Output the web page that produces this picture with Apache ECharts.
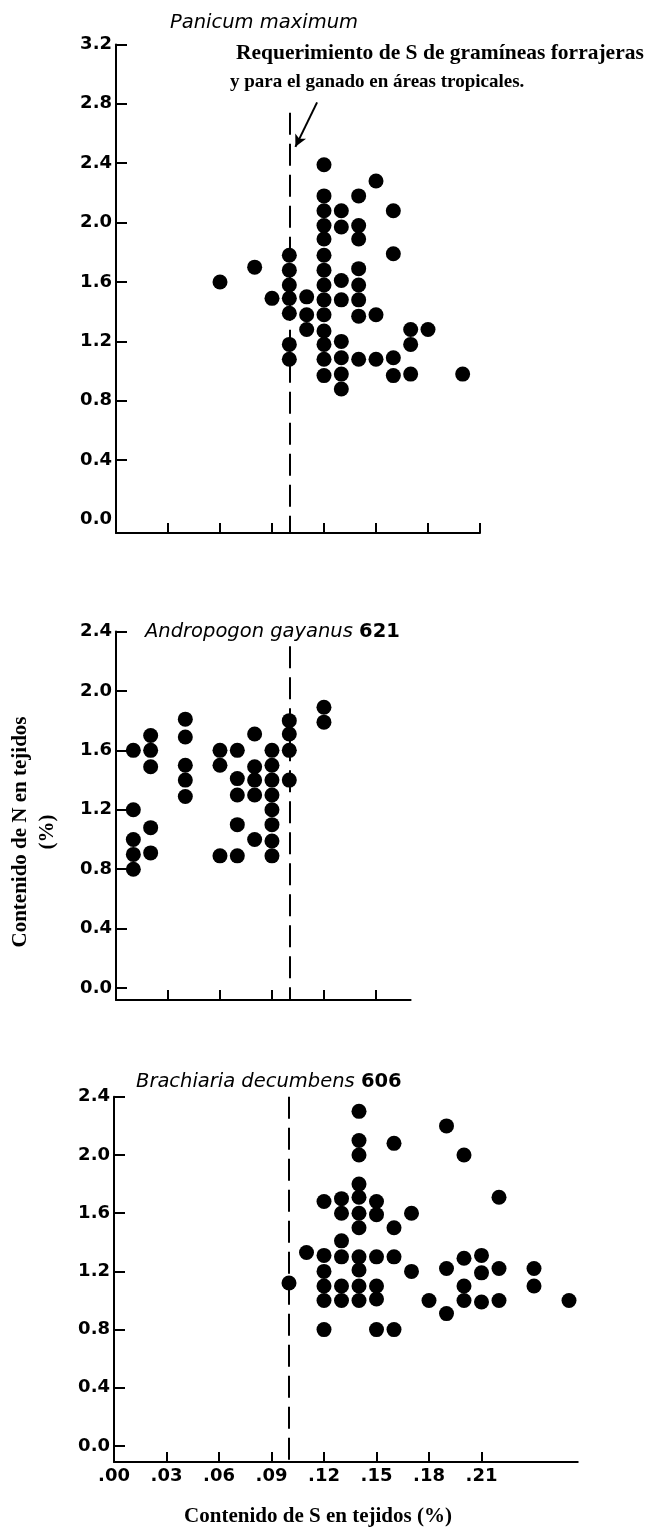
<!DOCTYPE html>
<html>
<head>
<meta charset="utf-8">
<script src="https://cdn.jsdelivr.net/npm/echarts@6/dist/echarts.min.js"></script>
<style>
  html, body { margin: 0; padding: 0; background: #fff; }
  #chart { width: 649px; height: 1531px; }
</style>
</head>
<body>
<div id="chart"></div>
<script>
// Sulfur (S, %) vs nitrogen (N, %) content in plant tissue, three forage grasses.
// Each point is [S, N].
const panicum = [
  [0.06, 1.60],
  [0.08, 1.70],
  [0.09, 1.49],
  [0.10, 1.78], [0.10, 1.68], [0.10, 1.58], [0.10, 1.49], [0.10, 1.39], [0.10, 1.18], [0.10, 1.08],
  [0.11, 1.50], [0.11, 1.38], [0.11, 1.28],
  [0.12, 2.39], [0.12, 2.18], [0.12, 2.08], [0.12, 1.98], [0.12, 1.89], [0.12, 1.78], [0.12, 1.68],
  [0.12, 1.58], [0.12, 1.48], [0.12, 1.38], [0.12, 1.27], [0.12, 1.18], [0.12, 1.08], [0.12, 0.97],
  [0.13, 2.08], [0.13, 1.97], [0.13, 1.61], [0.13, 1.48], [0.13, 1.20], [0.13, 1.09], [0.13, 0.98], [0.13, 0.88],
  [0.14, 2.18], [0.14, 1.98], [0.14, 1.89], [0.14, 1.69], [0.14, 1.58], [0.14, 1.48], [0.14, 1.37], [0.14, 1.08],
  [0.15, 2.28], [0.15, 1.38], [0.15, 1.08],
  [0.16, 2.08], [0.16, 1.79], [0.16, 1.09], [0.16, 0.97],
  [0.17, 1.28], [0.17, 1.18], [0.17, 0.98],
  [0.18, 1.28],
  [0.20, 0.98]
];

const andropogon = [
  [0.01, 1.60], [0.01, 1.20], [0.01, 1.00], [0.01, 0.90], [0.01, 0.80],
  [0.02, 1.70], [0.02, 1.60], [0.02, 1.49], [0.02, 1.08], [0.02, 0.91],
  [0.04, 1.81], [0.04, 1.69], [0.04, 1.50], [0.04, 1.40], [0.04, 1.29],
  [0.06, 1.60], [0.06, 1.50], [0.06, 0.89],
  [0.07, 1.60], [0.07, 1.41], [0.07, 1.30], [0.07, 1.10], [0.07, 0.89],
  [0.08, 1.71], [0.08, 1.49], [0.08, 1.40], [0.08, 1.30], [0.08, 1.00],
  [0.09, 1.60], [0.09, 1.50], [0.09, 1.40], [0.09, 1.30], [0.09, 1.20], [0.09, 1.10], [0.09, 0.99], [0.09, 0.89],
  [0.10, 1.80], [0.10, 1.71], [0.10, 1.60], [0.10, 1.40],
  [0.12, 1.89], [0.12, 1.79]
];

const brachiaria = [
  [0.10, 1.12],
  [0.11, 1.33],
  [0.12, 1.68], [0.12, 1.31], [0.12, 1.20], [0.12, 1.10], [0.12, 1.00], [0.12, 0.80],
  [0.13, 1.70], [0.13, 1.60], [0.13, 1.41], [0.13, 1.30], [0.13, 1.10], [0.13, 1.00],
  [0.14, 2.30], [0.14, 2.10], [0.14, 2.00], [0.14, 1.80], [0.14, 1.71], [0.14, 1.60],
  [0.14, 1.50], [0.14, 1.30], [0.14, 1.21], [0.14, 1.10], [0.14, 1.00],
  [0.15, 1.68], [0.15, 1.59], [0.15, 1.30], [0.15, 1.10], [0.15, 1.01], [0.15, 0.80],
  [0.16, 2.08], [0.16, 1.50], [0.16, 1.30], [0.16, 0.80],
  [0.17, 1.60], [0.17, 1.20],
  [0.18, 1.00],
  [0.19, 2.20], [0.19, 1.22], [0.19, 0.91],
  [0.20, 2.00], [0.20, 1.29], [0.20, 1.10], [0.20, 1.00],
  [0.21, 1.31], [0.21, 1.19], [0.21, 0.99],
  [0.22, 1.71], [0.22, 1.22], [0.22, 1.00],
  [0.24, 1.22], [0.24, 1.10],
  [0.26, 1.00]
];

// S requirement of tropical forage grasses and cattle
const sRequirement = 0.10;

// Axis ticks and labels
const nTicksPanicum = [0.0, 0.4, 0.8, 1.2, 1.6, 2.0, 2.4, 2.8, 3.2];
const nTicks = [0.0, 0.4, 0.8, 1.2, 1.6, 2.0, 2.4];
const sTicks = [0.03, 0.06, 0.09, 0.12, 0.15, 0.18, 0.21];
const sTicksShort = [0.03, 0.06, 0.09, 0.12, 0.15];
const sLabels = [0.00, 0.03, 0.06, 0.09, 0.12, 0.15, 0.18, 0.21];

const titles = ['Panicum maximum', 'Andropogon gayanus', 'Brachiaria decumbens'];
const cultivars = ['', '621', '606'];

const SANS = '"DejaVu Sans", "Liberation Sans", sans-serif';
const SERIF = '"Liberation Serif", "DejaVu Serif", serif';

const chart = echarts.init(document.getElementById('chart'), null, { renderer: 'canvas' });

const black = '#000';

function xAxisFor(gridIndex, max, ticks, labels) {
  return {
    type: 'value', gridIndex, min: 0, max,
    splitLine: { show: false },
    axisLine: { onZero: false, lineStyle: { color: black, width: 2 } },
    axisTick: { inside: true, length: 10, customValues: ticks, lineStyle: { color: black, width: 2 } },
    axisLabel: labels ? {
      customValues: labels, margin: 5, color: black, fontFamily: SANS, fontWeight: 'bold', fontSize: 18,
      formatter: v => v.toFixed(2).replace(/^0/, '')
    } : { show: false }
  };
}

function yAxisFor(gridIndex, min, max, labels, ticks) {
  return {
    type: 'value', gridIndex, min, max,
    splitLine: { show: false },
    axisLine: { onZero: false, lineStyle: { color: black, width: 2 } },
    axisTick: { inside: true, length: 11, customValues: ticks, lineStyle: { color: black, width: 2 } },
    axisLabel: {
      customValues: labels, margin: 4, color: black, fontFamily: SANS, fontWeight: 'bold', fontSize: 18,
      formatter: v => v.toFixed(1)
    }
  };
}

function dots(data, idx, reqTop, reqBottom) {
  return {
    type: 'scatter', xAxisIndex: idx, yAxisIndex: idx, data,
    symbol: 'circle', symbolSize: 15,
    itemStyle: { color: black, opacity: 1 },
    z: 3,
    markLine: {
      silent: true, symbol: ['none', 'none'],
      label: { show: false },
      lineStyle: { color: black, width: 2, type: [22, 9], opacity: 1 },
      data: [[{ coord: [sRequirement, reqTop] }, { coord: [sRequirement, reqBottom] }]]
    }
  };
}

// Arrow from the note to the requirement line (data coordinates of panel 1)
const noteArrow = [[0.116, 2.81], [0.1035, 2.51]];

const titleStyle = {
  fontFamily: SANS, fontStyle: 'italic', fontWeight: 'normal', fontSize: 19.5, color: black,
  rich: { b: { fontFamily: SANS, fontStyle: 'normal', fontWeight: 'bold', fontSize: 19.5, color: black } }
};

const option = {
  animation: false,
  backgroundColor: '#fff',
  grid: [
    { left: 116, top: 44.4, width: 364, height: 488.6, outerBoundsMode: 'none' },
    { left: 116, top: 631.5, width: 294.6, height: 368.5, outerBoundsMode: 'none' },
    { left: 114, top: 1096.8, width: 463.75, height: 365.2, outerBoundsMode: 'none' }
  ],
  xAxis: [
    xAxisFor(0, 0.21, sTicks, null),
    xAxisFor(1, 0.17, sTicksShort, null),
    xAxisFor(2, 0.265, sTicks, sLabels)
  ],
  yAxis: [
    yAxisFor(0, -0.09, 3.2, nTicksPanicum, nTicksPanicum.slice(1)),
    yAxisFor(1, -0.08, 2.4, nTicks, nTicks),
    yAxisFor(2, -0.11, 2.4, nTicks, nTicks)
  ],
  title: [
    { text: titles[0], left: 170, top: 13, padding: 0, textStyle: titleStyle },
    { text: titles[1] + ' {b|' + cultivars[1] + '}', left: 145, top: 622, padding: 0, textStyle: titleStyle },
    { text: titles[2] + ' {b|' + cultivars[2] + '}', left: 136, top: 1072, padding: 0, textStyle: titleStyle }
  ],
  graphic: [
    {
      type: 'text', x: 236, y: 53,
      style: { text: 'Requerimiento de S de gramíneas forrajeras', font: 'bold 21.5px ' + SERIF, fill: black, textVerticalAlign: 'middle' }
    },
    {
      type: 'text', x: 230, y: 82,
      style: { text: 'y para el ganado en áreas tropicales.', font: 'bold 19px ' + SERIF, fill: black, textVerticalAlign: 'middle' }
    },
    {
      type: 'text', x: 34, y: 832, rotation: Math.PI / 2,
      style: {
        text: 'Contenido de N en tejidos\n(%)', font: 'bold 21px ' + SERIF, fill: black,
        textAlign: 'center', textVerticalAlign: 'middle', lineHeight: 27
      }
    },
    {
      type: 'text', x: 318, y: 1517,
      style: { text: 'Contenido de S en tejidos (%)', font: 'bold 21px ' + SERIF, fill: black, textAlign: 'center', textVerticalAlign: 'middle' }
    }
  ],
  series: [
    dots(panicum, 0, 2.74, -0.09),
    dots(andropogon, 1, 2.30, -0.08),
    dots(brachiaria, 2, 2.40, -0.11),
    {
      type: 'scatter', xAxisIndex: 0, yAxisIndex: 0, data: [],
      markLine: {
        silent: true, symbol: ['none', 'arrow'], symbolSize: [9, 12],
        label: { show: false },
        lineStyle: { color: black, width: 2, type: 'solid', opacity: 1 },
        data: [[{ coord: noteArrow[0] }, { coord: noteArrow[1] }]]
      }
    }
  ]
};

chart.setOption(option);
</script>
</body>
</html>
